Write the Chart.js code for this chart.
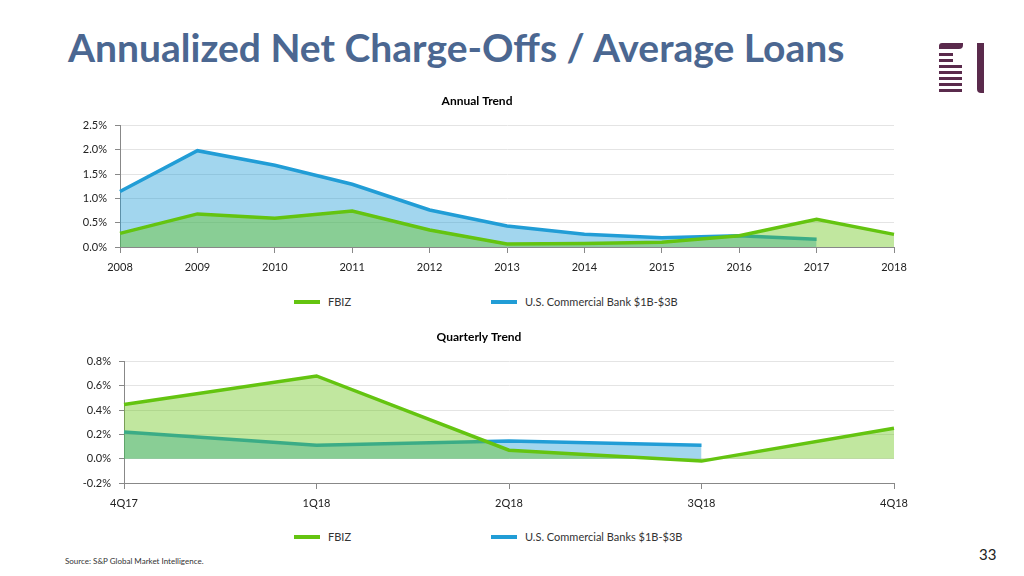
<!DOCTYPE html>
<html>
<head>
<meta charset="utf-8">
<script src="https://cdn.jsdelivr.net/npm/chart.js@4"></script>
<style>
  body { margin: 0; width: 1024px; height: 576px; background: #fff; position: relative; overflow: hidden; font-family: Lato, "Open Sans", sans-serif; }
  h1 { position: absolute; left: 68px; top: 24px; margin: 0; font-size: 39px; line-height: 46px; font-weight: bold; color: #4b6791; white-space: nowrap; }
  .chartbox { position: absolute; left: 0; width: 1024px; height: 192px; }
  .legend { position: absolute; left: 0; width: 1024px; height: 16px; font-size: 11px; color: #333; }
  .legend span { position: absolute; top: 0; line-height: 16px; }
  .legend i { position: absolute; top: 6px; width: 26px; height: 4px; }
  .logo div { position: absolute; background: #5a2a4c; }
  .source { position: absolute; left: 65px; top: 556px; font-size: 8px; color: #333; }
  .page { position: absolute; left: 979px; top: 545px; font-size: 15px; color: #222; }
</style>
</head>
<body>
<h1>Annualized Net Charge-Offs / Average Loans</h1>

<div class="logo">
  <div style="left:939px;top:43px;width:24px;height:6px;border-radius:3px 0 4px 0;"></div>
  <div style="left:939px;top:53px;width:14px;height:3px;"></div>
  <div style="left:939px;top:59px;width:14px;height:3px;"></div>
  <div style="left:939px;top:65px;width:23px;height:3px;"></div>
  <div style="left:939px;top:71px;width:23px;height:3px;"></div>
  <div style="left:939px;top:77px;width:23px;height:3px;"></div>
  <div style="left:939px;top:83px;width:23px;height:3px;"></div>
  <div style="left:939px;top:89px;width:23px;height:3px;"></div>
  <div style="left:977px;top:43px;width:7px;height:50px;border-radius:0 0 0 4px;"></div>
</div>

<div class="chartbox" style="top:88px;"><canvas id="annual"></canvas></div>
<div class="legend" id="legendAnnual" style="top:294px;"></div>

<div class="chartbox" style="top:324px;"><canvas id="quarterly"></canvas></div>
<div class="legend" id="legendQuarterly" style="top:529px;"></div>

<div class="source">Source: S&amp;P Global Market Intelligence.</div>
<div class="page">33</div>

<script>
const annualLabels = ['2008', '2009', '2010', '2011', '2012', '2013', '2014', '2015', '2016', '2017', '2018'];
const annualFbiz = [0.28, 0.68, 0.59, 0.74, 0.35, 0.06, 0.07, 0.10, 0.23, 0.57, 0.26];
const annualPeers = [1.14, 1.98, 1.68, 1.29, 0.76, 0.43, 0.26, 0.19, 0.23, 0.16, null];

const quarterLabels = ['4Q17', '1Q18', '2Q18', '3Q18', '4Q18'];
const quarterFbiz = [0.445, 0.68, 0.07, -0.02, 0.25];
const quarterPeers = [0.22, 0.11, 0.145, 0.11, null];

const greenLine = 'rgb(100,196,16)';
const greenFill = 'rgba(100,196,16,0.4)';
const blueLine = 'rgb(33,157,214)';
const blueFill = 'rgba(33,157,214,0.42)';
const fontFamily = 'Lato, "Open Sans", sans-serif';

function makeChart(id, title, labels, fbiz, peers, yMin, yMax, step, leftPad) {
    const ctx = document.getElementById(id).getContext('2d');
    return new Chart(ctx, {
        type: 'line',
        data: {
            labels: labels,
            datasets: [
                { label: 'FBIZ', data: fbiz, borderColor: greenLine, backgroundColor: greenFill, fill: 'origin' },
                { label: 'Peers', data: peers, borderColor: blueLine, backgroundColor: blueFill, fill: 'origin' }
            ]
        },
        options: {
            responsive: false,
            animation: false,
            elements: {
                line: { borderWidth: 3.5, tension: 0 },
                point: { radius: 0 }
            },
            layout: { padding: { left: leftPad, right: 130, top: 0, bottom: 3 } },
            plugins: {
                legend: { display: false },
                tooltip: { enabled: false },
                title: {
                    display: true,
                    text: title,
                    color: '#000',
                    font: { family: fontFamily, size: 12, weight: 'bold' },
                    padding: { top: 6, bottom: 17 }
                }
            },
            scales: {
                x: {
                    offset: false,
                    grid: { drawOnChartArea: false, tickLength: 6, tickColor: '#888', lineWidth: 1 },
                    border: { color: '#888' },
                    ticks: { color: '#222', padding: 8, maxRotation: 0, font: { family: fontFamily, size: 11 } },
                    afterFit: s => { s.height = 30; }
                },
                y: {
                    min: yMin,
                    max: yMax,
                    grid: { color: '#e4e4e4', tickLength: 5, tickColor: '#888' },
                    border: { color: '#888' },
                    ticks: {
                        stepSize: step,
                        color: '#222',
                        padding: 8,
                        font: { family: fontFamily, size: 11 },
                        callback: v => v.toFixed(1) + '%'
                    },
                    afterFit: s => { s.width = 60; }
                }
            }
        }
    });
}

function setSize(id) {
    const c = document.getElementById(id);
    c.width = 1024;
    c.height = 192;
    c.style.width = '1024px';
    c.style.height = '192px';
}

function buildLegend(id, peerText) {
    const el = document.getElementById(id);
    el.innerHTML =
        '<i style="left:294px;background:' + greenLine + '"></i><span style="left:328px">FBIZ</span>' +
        '<i style="left:491px;background:' + blueLine + '"></i><span style="left:525px">' + peerText + '</span>';
}

setSize('annual');
setSize('quarterly');
makeChart('annual', 'Annual Trend', annualLabels, annualFbiz, annualPeers, 0, 2.5, 0.5, 60);
makeChart('quarterly', 'Quarterly Trend', quarterLabels, quarterFbiz, quarterPeers, -0.2, 0.8, 0.2, 64);
buildLegend('legendAnnual', 'U.S. Commercial Bank $1B-$3B');
buildLegend('legendQuarterly', 'U.S. Commercial Banks $1B-$3B');
</script>
</body>
</html>
